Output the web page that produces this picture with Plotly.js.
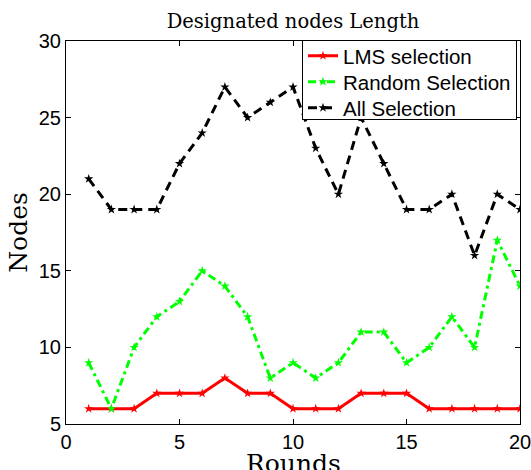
<!DOCTYPE html>
<html>
<head>
<meta charset="utf-8">
<script src="https://cdn.plot.ly/plotly-3.0.1.min.js"></script>
<style>html,body{margin:0;padding:0;background:#fff;overflow:hidden;}#chart{width:531px;height:470px;}</style>
</head>
<body>
<div id="chart"></div>
<script>
var rounds = [1,2,3,4,5,6,7,8,9,10,11,12,13,14,15,16,17,18,19,20];
var lmsSelection = [6,6,6,7,7,7,8,7,7,6,6,6,7,7,7,6,6,6,6,6];
var randomSelection = [9,6,10,12,13,15,14,12,8,9,8,9,11,11,9,10,12,10,17,14];
var allSelection = [21,19,19,19,22,24,27,25,26,27,23,20,25,22,19,19,20,16,20,19];
var xTicks = [0,5,10,15,20];
var yTicks = [5,10,15,20,25,30];

var mk = function(c){ return {symbol:'star', size:7, color:c, line:{width:0}}; };
var traces = [
  {x:rounds, y:lmsSelection, name:'LMS selection', mode:'lines+markers',
   line:{color:'#ff0000', width:3}, marker:mk('#ff0000')},
  {x:rounds, y:randomSelection, name:'Random Selection', mode:'lines+markers',
   line:{color:'#00ff00', width:3, dash:'8px,4px,3px,4px'}, marker:mk('#00ff00')},
  {x:rounds, y:allSelection, name:'All Selection', mode:'lines+markers',
   line:{color:'#000000', width:3, dash:'9px,6px'}, marker:mk('#000000')}
];

var axisCommon = {
  showgrid:false, zeroline:false, showline:true, linecolor:'#000', linewidth:1,
  mirror:'ticks', ticks:'inside', ticklen:5, tickcolor:'#000', tickwidth:1,
  ticklabeloverflow:'allow',
  tickfont:{family:'Liberation Sans, Arial, sans-serif', size:20, color:'#000'}
};

var layout = {
  width:531, height:470,
  margin:{l:66, r:11, t:41, b:46},
  paper_bgcolor:'#fff', plot_bgcolor:'#fff',
  title:{text:'Designated nodes Length', font:{family:'DejaVu Serif, serif', size:19.5, color:'#000'},
         x:0.5, xanchor:'center', y:0.955, yanchor:'middle', xref:'paper'},
  xaxis:Object.assign({}, axisCommon, {range:[0,20], tickvals:xTicks, ticktext:xTicks.map(String)}),
  yaxis:Object.assign({}, axisCommon, {range:[5,30], tickvals:yTicks, ticktext:yTicks.map(String),
    title:{text:'Nodes', font:{family:'DejaVu Serif, serif', size:25, color:'#000'}, standoff:4}}),
  annotations:[{text:'Rounds', xref:'paper', yref:'paper', x:0.5, y:0, xanchor:'center', yanchor:'top',
    yshift:-24, borderpad:0, showarrow:false, font:{family:'DejaVu Serif, serif', size:25, color:'#000'}}],
  showlegend:true,
  legend:{x:0.9934, y:1.003, xanchor:'right', yanchor:'top', bgcolor:'#fff',
    bordercolor:'#000', borderwidth:1,
    font:{family:'Liberation Sans, Arial, sans-serif', size:20.5, color:'#000'}}
};

Plotly.newPlot('chart', traces, layout, {displayModeBar:false, staticPlot:true}).then(function(gd){
  try {
    var items = gd.querySelectorAll('.legend .traces');
    if (items.length < 2) return;
    var ys = [];
    items.forEach(function(el){
      var m = /translate\(\s*([-\d.]+)[ ,]+([-\d.]+)/.exec(el.getAttribute('transform') || '');
      ys.push(m ? [parseFloat(m[1]), parseFloat(m[2])] : null);
    });
    if (ys.some(function(v){return !v;})) return;
    var step = 26, shift = -5;
    items.forEach(function(el, i){
      el.setAttribute('transform', 'translate(' + ys[i][0] + ',' + (ys[0][1] + shift + i*step) + ')');
    });
    gd.querySelectorAll('.legend rect.bg').forEach(function(bg){
      bg.setAttribute('height', 79);
      bg.style.height = '79px';
    });
  } catch (e) {}
});
</script>
</body>
</html>
